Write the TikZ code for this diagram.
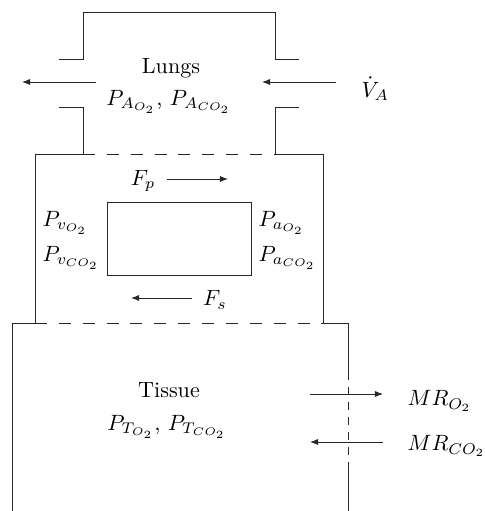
\documentclass[tikz,border=0pt]{standalone}
\usepackage{amsmath}
\usetikzlibrary{arrows.meta,positioning}
\tikzset{
  wall/.style={draw=black!85,line width=0.45pt},
  membrane/.style={draw=black!85,dash pattern=on 5.4pt off 5.4pt,line width=0.45pt},
  capwall/.style={draw=black!85,dash pattern=on 3.6pt off 3.2pt,line width=0.45pt},
  flow/.style={-{Latex[length=1.3mm,width=1mm]},line width=0.45pt,draw=black!85},
  lbl/.style={inner sep=1pt}
}

\begin{document}
\begin{tikzpicture}[x=0.0159cm,y=-0.0159cm]
  \useasboundingbox (0,0) rectangle (485,511);
  % lungs compartment
  \draw[wall] (59,59) -- (83,59) -- (83,12) -- (275,12) -- (275,59) -- (299,59);
  \draw[wall] (59,107) -- (83,107) -- (83,154) -- (35,154) -- (35,323) -- (12,323) -- (12,511);
  \draw[wall] (299,107) -- (275,107) -- (275,154) -- (323,154) -- (323,323) -- (348,323) -- (348,372);
  \draw[capwall] (348,372) -- (348,463);
  \draw[wall] (348,463) -- (348,511);
  \draw[membrane] (83,154) -- (275,154);
  \draw[membrane] (35,323) -- (323,323);
    % blood loop
  \node[wall,minimum width=144*0.0159cm,minimum height=73*0.0159cm,inner sep=0pt] (blood) at (179,238.5) {};

  \node[lbl] (lungs) at (171,68) {Lungs};
  \node[lbl] (plung) at (169,102) {$P_{A_{O_2}}$, $P_{A_{CO_2}}$};
  \node[lbl,anchor=west] (va) at (359,89) {$\dot{V}_A$};
  \coordinate (vain) at (336,82);
  \coordinate (vaend) at (262,82);
  \coordinate (expin) at (96,82);
  \coordinate (expend) at (22,82);
  \draw[flow] (vain) -- (vaend);
  \draw[flow] (expin) -- (expend);

  \node[lbl] (fp) at (143,181) {$F_p$};
  \coordinate (fpstart) at (167,179);
  \coordinate (fpend) at (228,179);
  \draw[flow] (fpstart) -- (fpend);
  \node[lbl] (fs) at (215,300) {$F_s$};
  \coordinate (fsstart) at (192,298);
  \coordinate (fsend) at (131,298);
  \draw[flow] (fsstart) -- (fsend);

  \node[lbl,anchor=west] (pvo) at (40,223) {$P_{v_{O_2}}$};
  \node[lbl,anchor=west] (pvco) at (40,258) {$P_{v_{CO_2}}$};
  \node[lbl,anchor=west] (pao) at (256,223) {$P_{a_{O_2}}$};
  \node[lbl,anchor=west] (paco) at (256,258) {$P_{a_{CO_2}}$};

  \node[lbl] (tissue) at (169,390) {Tissue};
  \node[lbl] (ptis) at (167,427) {$P_{T_{O_2}}$, $P_{T_{CO_2}}$};

  \node[lbl,anchor=west] (mro) at (405,401) {$MR_{O_2}$};
  \node[lbl,anchor=west] (mrco) at (405,446) {$MR_{CO_2}$};
  \coordinate (mroin) at (310,394);
  \coordinate (mroend) at (383,394);
  \coordinate (mrcoin) at (383,442);
  \coordinate (mrcoend) at (310,442);
  \draw[flow] (mroin) -- (mroend);
  \draw[flow] (mrcoin) -- (mrcoend);
\end{tikzpicture}
\end{document}
